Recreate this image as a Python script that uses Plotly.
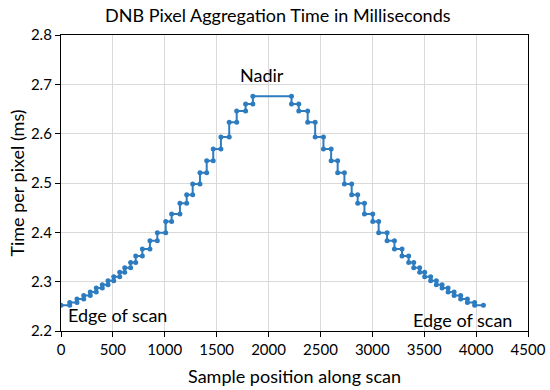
import plotly.graph_objects as go

# Aggregation zones: start sample, end sample, time per pixel (ms)
zone_start = [0, 84, 154, 219, 282, 340, 398, 453, 508, 566, 614, 671, 720, 784,
              857, 928, 1009, 1066, 1146, 1211, 1269, 1339, 1404, 1467, 1541, 1621,
              1693, 1779, 1849,
              2221, 2291, 2377, 2449, 2529, 2603, 2666, 2731, 2801, 2859, 2924, 3004,
              3061, 3142, 3213, 3286, 3350, 3399, 3456, 3504, 3562, 3617, 3672, 3730,
              3788, 3851, 3916, 3986]
zone_end = [84, 154, 219, 282, 340, 398, 453, 508, 566, 614, 671, 720, 784, 857,
            928, 1009, 1066, 1146, 1211, 1269, 1339, 1404, 1467, 1541, 1621, 1693,
            1779, 1849, 2221,
            2291, 2377, 2449, 2529, 2603, 2666, 2731, 2801, 2859, 2924, 3004, 3061,
            3142, 3213, 3286, 3350, 3399, 3456, 3504, 3562, 3617, 3672, 3730, 3788,
            3851, 3916, 3986, 4070]
time_ms = [2.252, 2.258, 2.265, 2.272, 2.279, 2.287, 2.294, 2.302, 2.310, 2.319,
           2.328, 2.339, 2.352, 2.366, 2.383, 2.399, 2.422, 2.437, 2.459, 2.476,
           2.498, 2.521, 2.545, 2.569, 2.593, 2.623, 2.646, 2.660, 2.676,
           2.660, 2.646, 2.623, 2.593, 2.569, 2.545, 2.521, 2.498, 2.476, 2.459,
           2.437, 2.422, 2.399, 2.383, 2.366, 2.352, 2.339, 2.328, 2.319, 2.310,
           2.302, 2.294, 2.287, 2.279, 2.272, 2.265, 2.258, 2.252]

x_tick_vals = [0, 500, 1000, 1500, 2000, 2500, 3000, 3500, 4000, 4500]
y_tick_vals = [2.2, 2.3, 2.4, 2.5, 2.6, 2.7, 2.8]
y_tick_text = ["2.2", "2.3", "2.4", "2.5", "2.6", "2.7", "2.8"]

xs, ys = [], []
for s, e, t in zip(zone_start, zone_end, time_ms):
    xs += [s, e]
    ys += [t, t]

FONT = "Lato"
BLUE = "#2E7CC0"
W, H = 550, 390

fig = go.Figure()
fig.add_trace(go.Scatter(
    x=xs, y=ys, mode="lines+markers",
    line=dict(color=BLUE, width=2),
    marker=dict(color=BLUE, size=5),
    showlegend=False, hoverinfo="skip",
))

fig.add_annotation(x=1936, y=2.719, text="Nadir", showarrow=False,
                   font=dict(family=FONT, size=18, color="black"))
fig.add_annotation(x=540, y=2.232, text="Edge of scan", showarrow=False,
                   font=dict(family=FONT, size=18, color="black"))
fig.add_annotation(x=3873, y=2.222, text="Edge of scan", showarrow=False,
                   font=dict(family=FONT, size=18, color="black"))

fig.update_layout(
    width=W, height=H,
    margin=dict(l=61, r=22, t=35, b=59, autoexpand=False),
    paper_bgcolor="white", plot_bgcolor="white",
    font=dict(family=FONT, color="black"),
    title=dict(text="DNB Pixel Aggregation Time in Milliseconds",
               x=0.505, xanchor="center", xref="container",
               y=1 - 16 / H, yanchor="middle",
               font=dict(family=FONT, size=18, color="black")),
    xaxis=dict(range=[0, 4500], tickvals=x_tick_vals, showgrid=True,
               gridcolor="#d9d9d9", gridwidth=1, zeroline=False,
               showline=True, linecolor="black", linewidth=1.3, mirror=True,
               ticks="outside", ticklen=5, tickcolor="black",
               tickfont=dict(family=FONT, size=15), automargin=False,
               title=dict(text="Sample position along scan",
                          font=dict(family=FONT, size=18), standoff=13)),
    yaxis=dict(range=[2.2, 2.8], tickvals=y_tick_vals, ticktext=y_tick_text,
               showgrid=True, gridcolor="#d9d9d9", gridwidth=1, zeroline=False,
               showline=True, linecolor="black", linewidth=1.3, mirror=True,
               ticks="outside", ticklen=5, tickcolor="black",
               tickfont=dict(family=FONT, size=15), automargin=False,
               title=dict(text="Time per pixel (ms)",
                          font=dict(family=FONT, size=18), standoff=1)),
)

fig.write_html("out.html", config={"displayModeBar": False},
               post_script="document.body.style.margin='0';document.body.style.overflow='hidden';")
